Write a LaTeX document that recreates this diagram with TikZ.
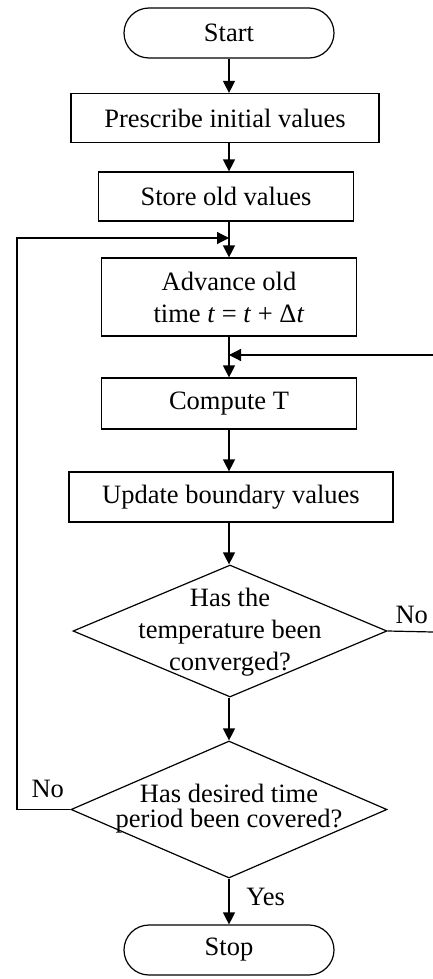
\documentclass[tikz,border=0pt]{standalone}
\usepackage{fontspec}
\setmainfont{Liberation Serif}
\usetikzlibrary{shapes.geometric,shapes.misc,arrows.meta}
\tikzset{
  terminal/.style={draw,rounded rectangle,minimum width=105pt,minimum height=25pt,inner sep=0pt},
  process/.style={draw,rectangle,minimum height=24.5pt,inner sep=0pt,align=center},
  decision/.style={draw,diamond,inner sep=0pt},
  flow/.style={-{Triangle[length=6pt,width=6pt]}},
}
\begin{document}
\begin{tikzpicture}[x=0.5pt,y=-0.5pt,line width=0.6pt,
    font=\fontsize{13.25}{16}\selectfont]
                    \useasboundingbox (0,0) rectangle (433,979);
                    \coordinate (col) at (229,0);
                    \node[terminal] (start) at (229,33) {Start};
                    \node[process,minimum width=154pt] (init) at (225,118) {Prescribe initial values};
                    \node[process,minimum width=127.5pt] (store) at (226,196.5) {Store old values};
                    \node[process,minimum width=127.5pt,minimum height=39pt] (advance) at (229,297) {Advance old\\time \textit{t} = \textit{t} + Δ\textit{t}};
                    \node[process,minimum width=127.5pt,minimum height=25.5pt] (compute) at (229,403.5) {Compute T};
                    \node[process,minimum width=162pt,minimum height=25pt] (update) at (231,497) {Update boundary values};
                    \node[decision,minimum width=157pt,minimum height=66pt] (conv) at (230,631) {};
                    \node[align=center] (convtext) at (230,632) {Has the\\temperature been\\converged?};
                    \node[decision,minimum width=158pt,minimum height=68.5pt] (covered) at (229,809.5) {};
                    \node[align=center,font=\fontsize{13.25}{12.5}\selectfont] (coveredtext) at (229,809) {Has desired time\\period been covered?};
                    \node[terminal] (stop) at (229,950) {Stop};
                    % main line
                    \draw[flow] (col |- start.south) -- (col |- init.north);
                    \draw[flow] (col |- init.south) -- (col |- store.north);
                    \draw[flow] (col |- store.south) -- (col |- advance.north);
                    \draw[flow] (col |- advance.south) -- (col |- compute.north);
                    \draw[flow] (col |- compute.south) -- (col |- update.north);
                    \draw[flow] (col |- update.south) -- (col |- conv.north);
                    \draw[flow] (col |- conv.south) -- (col |- covered.north);
                    \draw[flow] (col |- covered.south) -- (col |- stop.north)
                        node[pos=.4,right=5pt] (yes) {Yes};
                    % loops
                    \coordinate (jtop) at (col |- 0,238);
                    \coordinate (jmid) at (col |- 0,355);
                    \coordinate (rightin) at (433,355);
                    \coordinate (rightout) at (433,632);
                    \draw[flow] (covered.west) -| (17,238) -- (jtop);
                    \node[anchor=base west,inner sep=0pt] (noleft) at (31,797) {No};
                    \draw (conv.east) -- (rightout);
                    \node[anchor=base west,inner sep=0pt] (noright) at (395,623) {No};
                    \draw[flow] (rightin) -- (jmid);
                \end{tikzpicture}
\end{document}
